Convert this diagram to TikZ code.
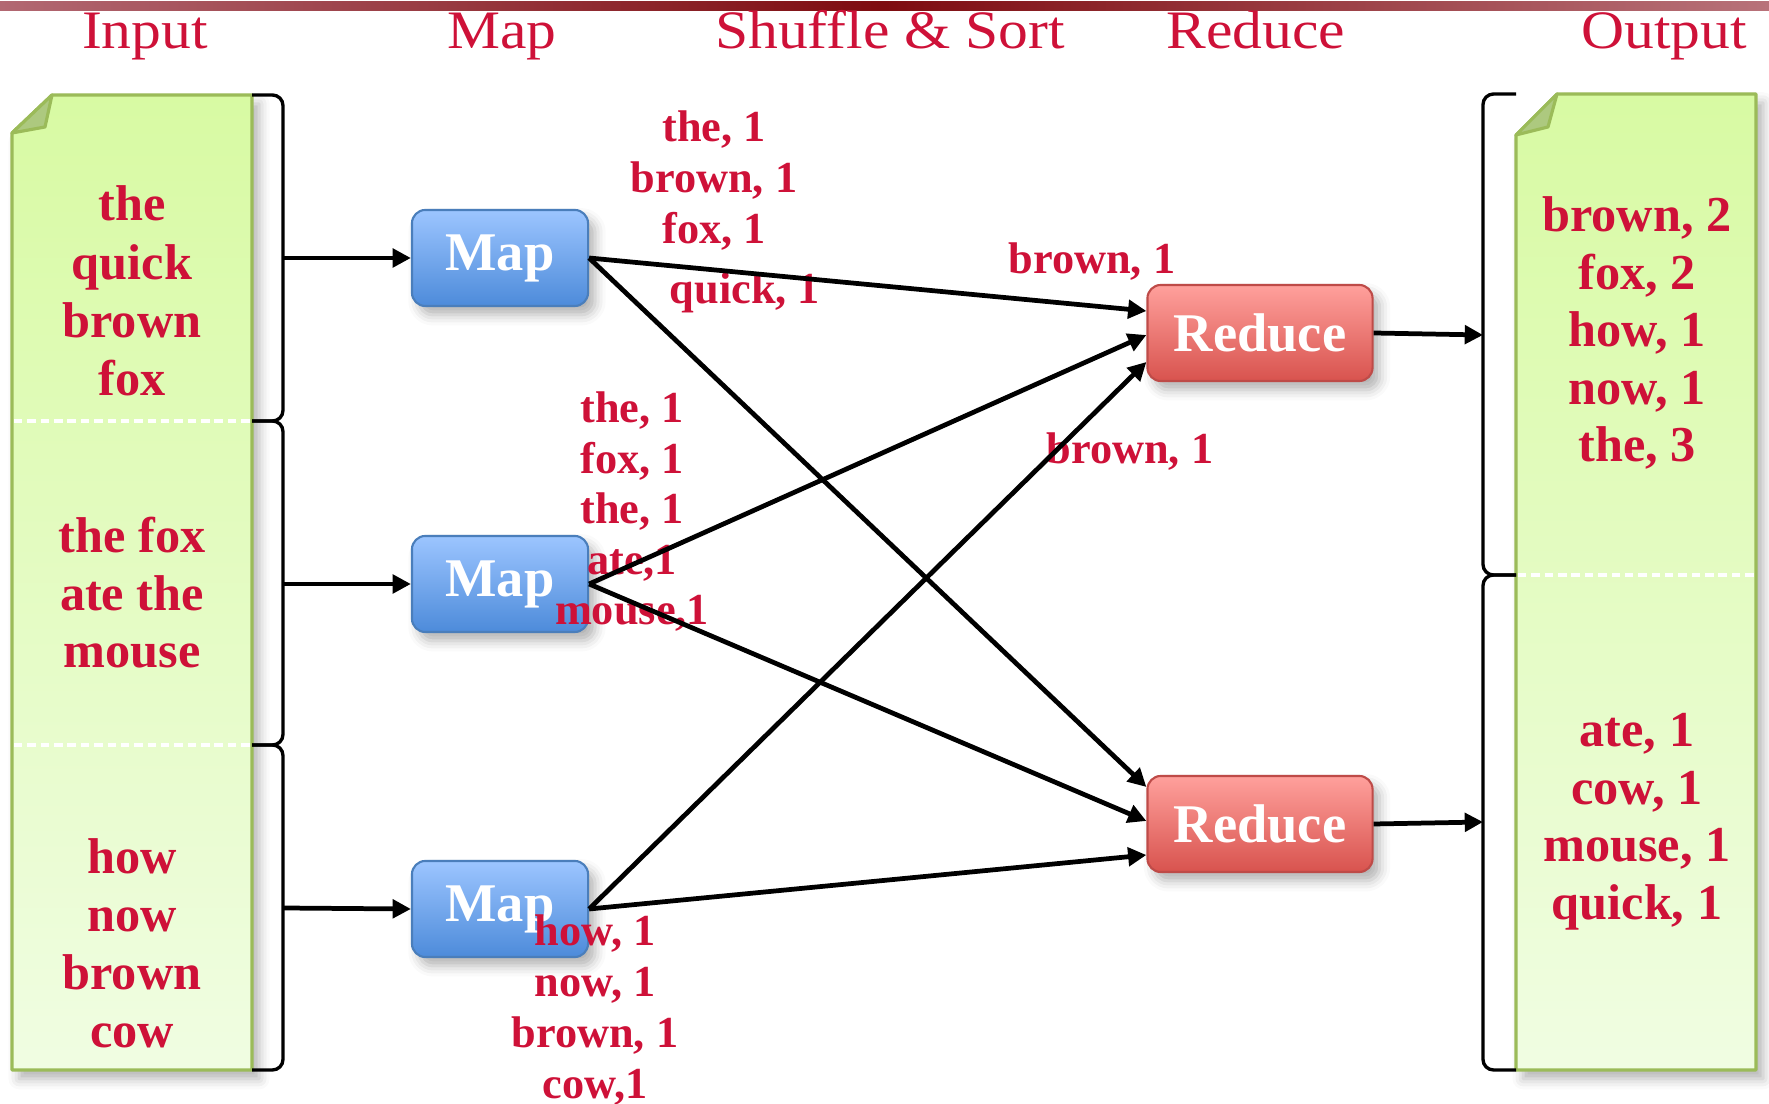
\documentclass[tikz,border=0pt]{standalone}
\usepackage{fontspec}
\setmainfont{Liberation Serif}
\usepackage{graphicx}
\usetikzlibrary{arrows.meta,calc,shadows.blur}

\definecolor{wordred}{RGB}{206,17,56}
\definecolor{barlight}{RGB}{178,104,114}
\definecolor{barlightr}{RGB}{184,114,122}
\definecolor{bardark}{RGB}{126,12,16}
\definecolor{docTop}{RGB}{216,250,163}
\definecolor{docBot}{RGB}{240,253,226}
\definecolor{docEdge}{RGB}{155,187,89}
\definecolor{docFold}{RGB}{173,201,127}
\definecolor{mapTop}{RGB}{156,197,255}
\definecolor{mapBot}{RGB}{77,139,218}
\definecolor{mapEdge}{RGB}{74,126,187}
\definecolor{redTop}{RGB}{255,160,156}
\definecolor{redBot}{RGB}{216,83,78}
\definecolor{redEdge}{RGB}{190,75,72}

\tikzset{
  softshadow/.style={blur shadow={shadow xshift=2pt,shadow yshift=-2.5pt,
      shadow blur radius=3pt,shadow opacity=30}},
  docpage/.style={draw=docEdge,line width=0.9pt,line join=round,
      top color=docTop,bottom color=docBot,softshadow},
  docfold/.style={fill=docFold,draw=docEdge,line width=0.9pt,line join=round},
  docsep/.style={white,line width=1.1pt,dash pattern=on 2.4pt off 1.4pt},
  bracket/.style={draw=black,line width=0.95pt,rounded corners=3pt},
  flow/.style={draw=black,line width=1.35pt,
      -{Triangle[length=5.2pt,width=5.2pt]}},
  procbox/.style={rounded corners=3.8pt,line width=0.6pt,text=white,
      font=\bfseries\fontsize{15.5}{18}\selectfont,inner sep=0pt,softshadow},
  mapbox/.style={procbox,draw=mapEdge,top color=mapTop,bottom color=mapBot,
      minimum width=1.76cm,minimum height=0.96cm},
  redbox/.style={procbox,draw=redEdge,top color=redTop,bottom color=redBot,
      minimum width=2.25cm,minimum height=0.96cm},
  head/.style={anchor=base,text=wordred,inner sep=0pt,
      font=\fontsize{15.4}{18}\selectfont},
  doctext/.style={anchor=base,text=wordred,inner sep=0pt,
      font=\bfseries\fontsize{14.3}{17}\selectfont},
  lab/.style={anchor=base,text=wordred,inner sep=0pt,
      font=\bfseries\fontsize{12.6}{15}\selectfont},
}

\begin{document}
\begin{tikzpicture}[x=0.01cm,y=-0.01cm]
\useasboundingbox (0,0) rectangle (1769,1104);

% title rule
\shade[left color=barlight,right color=barlightr,middle color=bardark]
  (0,2) rectangle (1769,11);

% column headings
\node[head] (hinput)  at (145,49)  {\scalebox{1.1}[1]{Input}};
\node[head] (hmap)    at (502,49)  {\scalebox{1.1}[1]{Map}};
\node[head] (hshuf)   at (890,49)  {\scalebox{1.1}[1]{Shuffle \& Sort}};
\node[head] (hreduce) at (1256,49) {\scalebox{1.1}[1]{Reduce}};
\node[head] (houtput) at (1664,49) {\scalebox{1.1}[1]{Output}};

% input document
\path[docpage] (52,95) -- (252,95) -- (252,1070) -- (12,1070) -- (12,133) -- cycle;
\path[docfold] (52,95) -- (45,127) -- (12,133) -- cycle;
\draw[docsep] (14,421) -- (250,421);
\draw[docsep] (14,745) -- (250,745);

% output document
\path[docpage] (1557,94) -- (1756,94) -- (1756,1070) -- (1516,1070) -- (1516,135) -- cycle;
\path[docfold] (1557,94) -- (1548,127) -- (1516,135) -- cycle;
\draw[docsep] (1518,575) -- (1754,575);

% input splits
\foreach \w [count=\i] in {the,quick,brown,fox}
  \node[doctext] (ina\i) at (132,{221+58.3*(\i-1)}) {\w};
\foreach \w [count=\i] in {the fox,ate the,mouse}
  \node[doctext] (inb\i) at (132,{553+57.5*(\i-1)}) {\w};
\foreach \w [count=\i] in {how,now,brown,cow}
  \node[doctext] (inc\i) at (132,{874+57.7*(\i-1)}) {\w};

% output partitions
\foreach \w [count=\i] in {{brown, 2},{fox, 2},{how, 1},{now, 1},{the, 3}}
  \node[doctext] (outa\i) at (1637,{232+57.5*(\i-1)}) {\w};
\foreach \w [count=\i] in {{ate, 1},{cow, 1},{mouse, 1},{quick, 1}}
  \node[doctext] (outb\i) at (1637,{747+57.5*(\i-1)}) {\w};

% brackets grouping the splits
\draw[bracket] (252,95)  -- (283,95)  -- (283,421)  -- (252,421);
\draw[bracket] (252,421) -- (283,421) -- (283,745)  -- (252,745);
\draw[bracket] (252,745) -- (283,745) -- (283,1070) -- (252,1070);
\draw[bracket] (1516,94)  -- (1483,94)  -- (1483,575)  -- (1516,575);
\draw[bracket] (1516,575) -- (1483,575) -- (1483,1070) -- (1516,1070);
\coordinate (s1) at (283,258);
\coordinate (s2) at (283,584);
\coordinate (s3) at (283,908);
\coordinate (o1) at (1483,335);
\coordinate (o2) at (1483,822);

% workers
\node[mapbox] (m1) at (500,258) {Map};
\node[mapbox] (m2) at (500,584) {Map};
\node[mapbox] (m3) at (500,909) {Map};
\node[redbox] (r1) at (1260,333) {Reduce};
\node[redbox] (r2) at (1260,824) {Reduce};

% intermediate key/value pairs
\foreach \w [count=\i] in {{the, 1},{brown, 1},{fox, 1}}
  \node[lab] (ka\i) at (714,{142+51*(\i-1)}) {\w};
\node[lab] (ka4) at (745,304) {quick, 1};
\foreach \w [count=\i] in {{the, 1},{fox, 1},{the, 1},{ate,1},{mouse,1}}
  \node[lab] (kb\i) at (632,{423+50.5*(\i-1)}) {\w};
\foreach \w [count=\i] in {{how, 1},{now, 1},{brown, 1},{cow,1}}
  \node[lab] (kc\i) at (595,{946+51*(\i-1)}) {\w};
\node[lab] (kd1) at (1092,274) {brown, 1};
\node[lab] (kd2) at (1130,464) {brown, 1};

% data flow
\draw[flow] (s1) -- (m1.west);
\draw[flow] (s2) -- (m2.west);
\draw[flow] (s3) -- (m3.west);

\draw[flow] (m1.east) -- ($(r1.west)+(0,-22)$);
\draw[flow] (m1.east) -- ($(r2.west)+(0,-37)$);
\draw[flow] (m2.east) -- ($(r1.west)+(0,2)$);
\draw[flow] (m2.east) -- ($(r2.west)+(0,-3)$);
\draw[flow] (m3.east) -- ($(r1.west)+(0,29)$);
\draw[flow] (m3.east) -- ($(r2.west)+(0,31)$);

\draw[flow] (r1.east) -- (o1);
\draw[flow] (r2.east) -- (o2);
\end{tikzpicture}
\end{document}
